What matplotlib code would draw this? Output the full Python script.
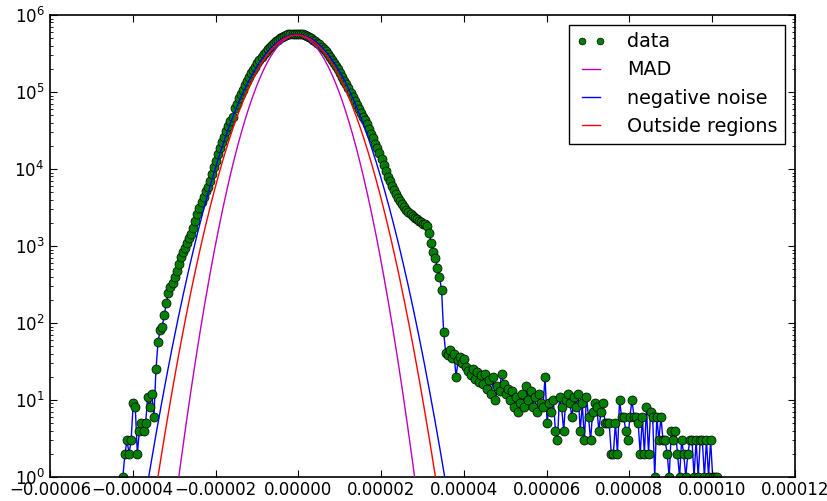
import numpy as np
import matplotlib
matplotlib.use("Agg")
import matplotlib.pyplot as plt
from matplotlib.ticker import FuncFormatter, LogLocator

# histogram of residual noise: bin start, bin width and counts per bin
X_START = -4.24e-5
BIN_WIDTH = 5.0e-7

left_tail = [1, 2, 3, 2, 3, 9, 8, 2, 4, 5, 4, 5, 11, 8, 12, 6, 25, 57, 80, 90,
             127, 180, 245, 295]

core = [331, 398, 479, 589, 724, 832, 955, 1096, 1259, 1445,
        1738, 2138, 2570, 3162, 3715, 4365, 5129, 5888, 6918, 8511,
        10470, 12880, 15490, 18620, 22390, 26300, 30900, 36310, 41690, 47860,
        61660, 70790, 83180, 95500, 107200, 123000, 138000, 155000, 174000, 195000,
        214000, 240000, 263000, 282000, 309000, 331000, 363000, 380000, 407000, 437000,
        457000, 479000, 501000, 513000, 537000, 550000, 562000, 562000, 575000, 575000,
        575000, 575000, 562000, 562000, 550000, 537000, 513000, 501000, 479000, 457000,
        437000, 417000, 389000, 363000, 339000, 316000, 288000, 263000, 240000, 219000,
        200000, 178000, 158000, 141000, 126000, 112000, 97700, 87100, 75900, 67600,
        60300, 53700, 47900, 43700, 38000, 33100, 28800, 25100, 21400, 18600,
        16200, 13500, 11200, 9330, 7940, 6920, 6030, 5370, 4680, 4170,
        3800, 3470, 3240, 2950, 2750, 2570, 2450, 2340, 2240, 2140,
        2040, 1950, 1910, 1820, 1480, 1100, 832, 692, 513, 398,
        269, 76, 41]

right_tail = [38, 44, 35, 40, 20, 33, 36, 30, 34,
              27, 24, 21, 25, 19, 23, 17, 21,
              16, 22, 14, 18, 12, 20, 10, 15, 13, 22, 16, 12, 14,
              10, 13, 8, 11, 7, 9, 12, 8, 15, 10,
              13, 8, 11, 7, 12, 9, 8, 20,
              5, 9, 7, 10, 4, 3, 11, 8,
              4, 10, 12, 9, 6, 11, 8, 12,
              4, 9, 3, 11, 6, 3, 7, 9,
              8, 4, 7, 9, 5, 5, 5, 2,
              2, 5, 2, 10, 6, 6, 4, 3,
              6, 10, 6, 6, 5, 2, 6, 2,
              8, 2, 7, 6, 1, 6, 3, 6,
              3, 3, 2, 1, 4, 3, 4, 2,
              1, 3, 2, 1, 2, 3, 3, 1,
              3, 1, 3, 3, 1, 3, 1, 3, 1, 1, 1]

counts = np.array(left_tail + core + right_tail, dtype=float)
x = X_START + BIN_WIDTH * np.arange(len(counts))

# gaussian noise estimates: label, colour, peak height, centre, sigma
fit_labels = ["MAD", "negative noise", "Outside regions"]
fit_colors = [(0.75, 0, 0.75), "#0000ff", "#ff0000"]
fit_peaks = [5.5e5, 5.6e5, 5.5e5]
fit_centres = [-4e-7, -4e-7, -4e-7]
fit_sigmas = [5.54e-6, 6.95e-6, 6.52e-6]

plt.rcParams["font.family"] = "DejaVu Sans"
plt.rcParams["font.size"] = 12
plt.rcParams["mathtext.fontset"] = "dejavusans"

fig = plt.figure(figsize=(8.28, 5.01), dpi=100)
ax = fig.add_axes([0.0604, 0.048, 0.8998, 0.922])

ax.plot(x, counts, "-", color="#0000ff", lw=1.0, zorder=1)
ax.plot(x, counts, "o", color="green", mec="k", mew=0.5, ms=6.5,
        label="data", zorder=2)

xx = np.linspace(-6e-5, 1.2e-4, 3000)
for lab, col, amp, mu, sig in zip(fit_labels, fit_colors, fit_peaks,
                                  fit_centres, fit_sigmas):
    ax.plot(xx, amp * np.exp(-0.5 * ((xx - mu) / sig) ** 2), color=col,
            lw=1.0, label=lab, zorder=3)

ax.set_yscale("log")
ax.set_xlim(-6e-5, 1.2e-4)
ax.set_ylim(1, 1e6)
ax.set_xticks(np.arange(-6e-5, 1.21e-4, 2e-5))
ax.xaxis.set_major_formatter(FuncFormatter(
    lambda v, p: ("%.5f" % v).replace("-", "\u2212") if abs(v) > 1e-12 else "0.00000"))
ax.yaxis.set_major_locator(LogLocator(base=10, numticks=10))
ax.yaxis.set_minor_locator(LogLocator(base=10, subs=np.arange(2, 10), numticks=10))

ax.tick_params(which="both", direction="in", top=True, right=True, labelsize=12)
ax.tick_params(which="major", length=5, width=0.8, pad=4)
ax.tick_params(which="minor", length=2.5, width=0.6)
ax.tick_params(axis="x", pad=3)
for s in ax.spines.values():
    s.set_linewidth(1.2)

leg = ax.legend(loc="upper right", numpoints=2, fancybox=False, fontsize=13.8,
                handlelength=1.55, handletextpad=1.1, labelspacing=0.48,
                borderpad=0.4, borderaxespad=0.5, framealpha=1,
                markerscale=0.75)
leg.get_frame().set_edgecolor("k")
leg.get_frame().set_linewidth(1.0)

fig.savefig("out.png", dpi=100, facecolor="white")
